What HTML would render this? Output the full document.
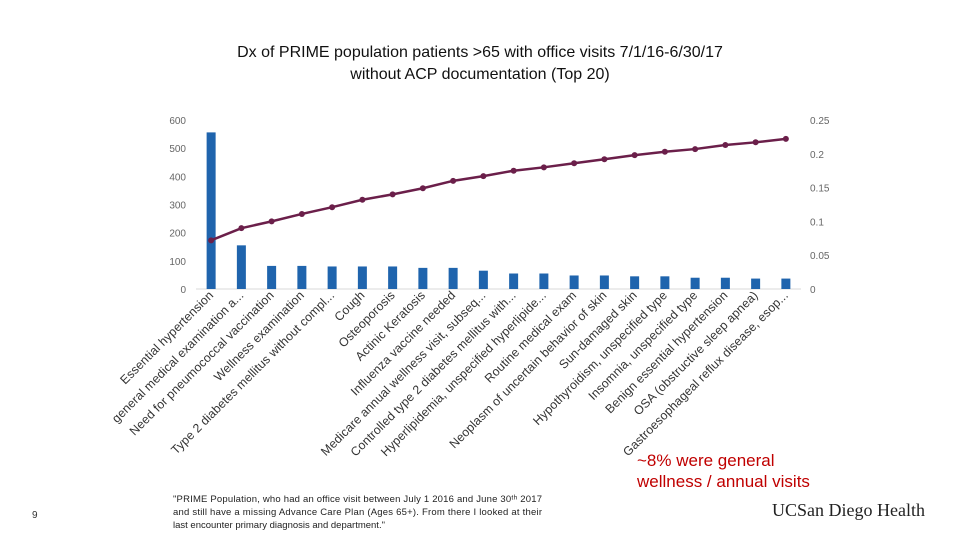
<!DOCTYPE html>
<html><head><meta charset="utf-8"><style>
body{margin:0;width:960px;height:540px;background:#fff;overflow:hidden;font-family:"Liberation Sans",sans-serif;}
</style></head><body>
<svg id="chart" width="960" height="540" xmlns="http://www.w3.org/2000/svg" font-family="Liberation Sans, sans-serif">
<text x="480" y="57" text-anchor="middle" font-size="16" fill="#111">Dx of PRIME population patients &gt;65 with office visits 7/1/16-6/30/17</text>
<text x="480" y="79" text-anchor="middle" font-size="16" fill="#111">without ACP documentation (Top 20)</text>
<g id="grid"></g><g id="bars"></g><g id="line"></g><g id="labels"></g>
<text x="637" y="466" font-size="17" fill="#c00000">~8% were general</text>
<text x="637" y="487" font-size="17" fill="#c00000">wellness / annual visits</text>
<text x="32" y="518" font-size="10" fill="#333">9</text>
<g font-size="9.5" fill="#222">
<text x="173" y="502" textLength="369">"PRIME Population, who had an office visit between July 1 2016 and June 30ᵗʰ 2017</text>
<text x="173" y="515" textLength="369">and still have a missing Advance Care Plan (Ages 65+). From there I looked at their</text>
<text x="173" y="528">last encounter primary diagnosis and department."</text>
</g>
<text x="772" y="516" font-size="18" font-family="Liberation Serif, serif" fill="#222">UCSan Diego Health</text>
</svg>
<script>
const categories=["Essential hypertension","general medical examination a...","Need for pneumococcal vaccination","Wellness examination","Type 2 diabetes mellitus without compl...","Cough","Osteoporosis","Actinic Keratosis","Influenza vaccine needed","Medicare annual wellness visit, subseq...","Controlled type 2 diabetes mellitus with...","Hyperlipidemia, unspecified hyperlipide...","Routine medical exam","Neoplasm of uncertain behavior of skin","Sun-damaged skin","Hypothyroidism, unspecified type","Insomnia, unspecified type","Benign essential hypertension","OSA (obstructive sleep apnea)","Gastroesophageal reflux disease, esop..."];
const counts=[556,155,82,82,80,80,80,75,75,65,55,55,48,48,45,45,40,40,37,37];
const cumulative=[0.072,0.090,0.100,0.111,0.121,0.132,0.140,0.149,0.160,0.167,0.175,0.180,0.186,0.192,0.198,0.203,0.207,0.213,0.217,0.222];
const leftTicks=[0,100,200,300,400,500,600];
const rightTicks=["0","0.05","0.1","0.15","0.2","0.25"];
const NS="http://www.w3.org/2000/svg";
const x0=196,x1=801,yB=289,yT=120;
const step=(x1-x0)/categories.length;
const xc=i=>x0+step*(i+0.5);
const yL=v=>yB-(v/600)*(yB-yT);
const yR=v=>yB-(v/0.25)*(yB-yT);
function mk(tag,attrs,parent){const e=document.createElementNS(NS,tag);for(const k in attrs)e.setAttribute(k,attrs[k]);parent.appendChild(e);return e;}
const grid=document.getElementById('grid');
const ax=mk('line',{x1:x0,x2:x1,y1:yB,y2:yB,stroke:'#d9d9d9'},grid);


leftTicks.forEach(v=>{const t=mk('text',{x:186,y:yL(v)+4,'text-anchor':'end','font-size':10,fill:'#666'},grid);t.textContent=v;

});
rightTicks.forEach(v=>{const t=mk('text',{x:810,y:yR(+v)+4,'font-size':10,fill:'#666'},grid);t.textContent=v;

});
const bars=document.getElementById('bars');
counts.forEach((v,i)=>{const b=mk('rect',{x:xc(i)-4.5,y:yL(v),width:9,height:yB-yL(v),fill:'#1f64ad'},bars);

});
const lg=document.getElementById('line');
const pl=mk('polyline',{points:cumulative.map((v,i)=>xc(i)+','+yR(v)).join(' '),fill:'none',stroke:'#6b1f4a','stroke-width':2.5},lg);


cumulative.forEach((v,i)=>{const c=mk('circle',{cx:xc(i),cy:yR(v),r:3,fill:'#6b1f4a'},lg);

});
const lab=document.getElementById('labels');
categories.forEach((c,i)=>{const x=xc(i)+3,y=296;const t=mk('text',{x:x,y:y,'text-anchor':'end','font-size':12.3,'letter-spacing':0.1,fill:'#333',transform:'rotate(-45 '+x+' '+y+')'},lab);t.textContent=c;

});
</script>
</body></html>
